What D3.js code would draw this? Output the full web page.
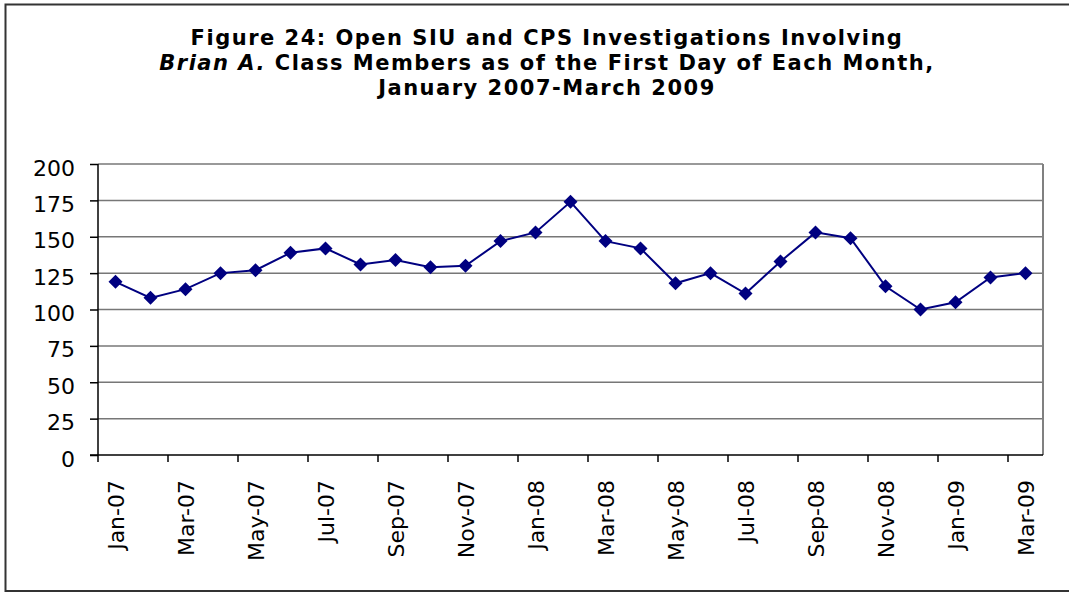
<!DOCTYPE html>
<html>
<head>
<meta charset="utf-8">
<script src="https://cdn.jsdelivr.net/npm/d3@7"></script>
<style>
  html, body { margin: 0; padding: 0; background: #fff; }
  svg { display: block; }
</style>
</head>
<body>
<svg id="chart" width="1069" height="594"></svg>
<script>
const months = ["Jan-07","Feb-07","Mar-07","Apr-07","May-07","Jun-07","Jul-07","Aug-07","Sep-07","Oct-07","Nov-07","Dec-07",
                "Jan-08","Feb-08","Mar-08","Apr-08","May-08","Jun-08","Jul-08","Aug-08","Sep-08","Oct-08","Nov-08","Dec-08",
                "Jan-09","Feb-09","Mar-09"];
const investigations = [119,108,114,125,127,139,142,131,134,129,130,147,
                        153,174,147,142,118,125,111,133,153,149,116,100,
                        105,122,125];
const yTicks = [0,25,50,75,100,125,150,175,200];
const titleLines = [
  [{t:"Figure 24: Open SIU and CPS Investigations Involving", i:false}],
  [{t:"Brian A.", i:true},{t:" Class Members as of the First Day of Each Month,", i:false}],
  [{t:"January 2007-March 2009", i:false}]
];

const svg = d3.select("#chart");
const margin = {left: 98, top: 164, right: 1043, bottom: 455};

// outer border
svg.append("rect")
  .attr("x", 5.5).attr("y", 4.5)
  .attr("width", 1070).attr("height", 586.5)
  .attr("fill", "#fff").attr("stroke", "#333").attr("stroke-width", 2);

// title: one text element per line
titleLines.forEach((line, li) => {
  const t = svg.append("text")
    .attr("x", 547).attr("y", 45 + li * 25)
    .attr("text-anchor", "middle")
    .attr("font-family", "'DejaVu Sans', Verdana, sans-serif")
    .attr("font-weight", "bold")
    .attr("font-size", 21)
    .attr("letter-spacing", 1.5)
    .attr("fill", "#000");
  line.forEach(seg => {
    const s = t.append("tspan").text(seg.t);
    if (seg.i) s.attr("font-style", "italic");
  });
});

const x = d3.scaleBand().domain(months).range([margin.left, margin.right]).padding(0);
const y = d3.scaleLinear().domain([0, 200]).range([margin.bottom, margin.top]);

// gridlines
svg.append("g").selectAll("line").data(yTicks.filter(d => d > 0)).join("line")
  .attr("x1", margin.left).attr("x2", margin.right)
  .attr("y1", d => y(d)).attr("y2", d => y(d))
  .attr("stroke", "#777").attr("stroke-width", 1.5);

// right border of plot area
svg.append("line")
  .attr("x1", margin.right).attr("x2", margin.right)
  .attr("y1", margin.top).attr("y2", margin.bottom)
  .attr("stroke", "#808080").attr("stroke-width", 2);

// y axis
const yAxis = d3.axisLeft(y).tickValues(yTicks).tickSize(8).tickPadding(14);
const gy = svg.append("g").attr("transform", `translate(${margin.left},0)`).call(yAxis);
gy.select(".domain").attr("stroke", "#000").attr("stroke-width", 1.5).attr("d", `M0,${margin.top}V${margin.bottom}`);
gy.selectAll(".tick line").attr("stroke", "#000").attr("stroke-width", 1.5);
gy.selectAll(".tick text")
  .attr("font-family", "'DejaVu Sans', Verdana, sans-serif")
  .attr("font-size", 22).attr("fill", "#000")
  .attr("dy", null).attr("y", 11).attr("x", -23);

// x axis ticks at boundaries every 2 categories
const boundaries = months.map((m, i) => i).filter(i => i % 2 === 0);
const gx = svg.append("g");
gx.append("line")
  .attr("x1", margin.left - 8).attr("x2", margin.right)
  .attr("y1", margin.bottom).attr("y2", margin.bottom)
  .attr("stroke", "#000").attr("stroke-width", 1.5);
gx.selectAll("line.tk").data(boundaries).join("line").attr("class", "tk")
  .attr("x1", i => x(months[i])).attr("x2", i => x(months[i]))
  .attr("y1", margin.bottom).attr("y2", margin.bottom + 7)
  .attr("stroke", "#000").attr("stroke-width", 1.5);
gx.selectAll("text").data(boundaries).join("text")
  .attr("transform", i => `translate(${x(months[i]) + x.bandwidth() / 2 + 8},480) rotate(-90)`)
  .attr("text-anchor", "end")
  .attr("font-family", "'DejaVu Sans', Verdana, sans-serif")
  .attr("font-size", 22).attr("fill", "#000")
  .text(i => months[i]);

// line
const line = d3.line()
  .x((d, i) => x(months[i]) + x.bandwidth() / 2)
  .y(d => y(d));
svg.append("path").datum(investigations)
  .attr("d", line).attr("fill", "none")
  .attr("stroke", "#000080").attr("stroke-width", 2);

// markers
svg.append("g").selectAll("path").data(investigations).join("path")
  .attr("transform", (d, i) => `translate(${x(months[i]) + x.bandwidth() / 2},${y(d)})`)
  .attr("d", "M0,-7L7,0L0,7L-7,0Z")
  .attr("fill", "#000080");
</script>
</body>
</html>
